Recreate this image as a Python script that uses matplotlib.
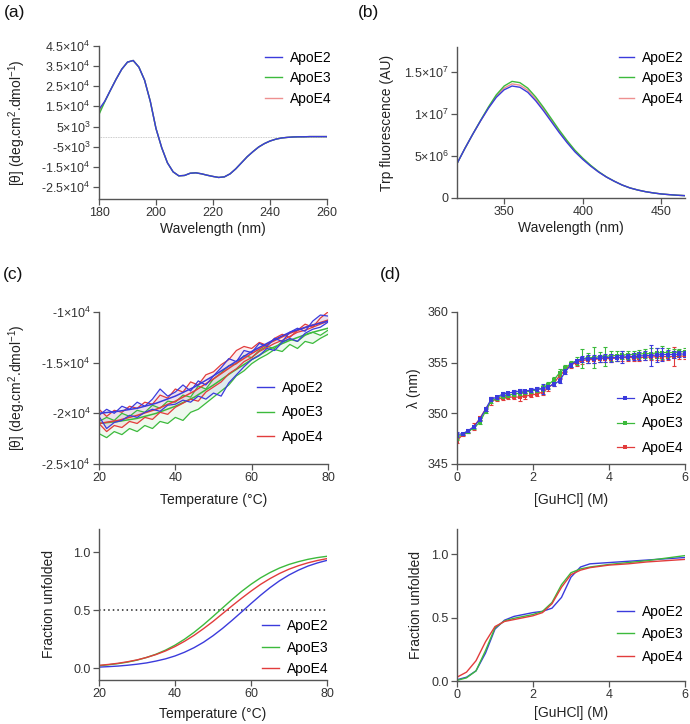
import numpy as np
import matplotlib.pyplot as plt
from matplotlib.lines import Line2D

plt.rcParams['font.family'] = ['Liberation Sans', 'DejaVu Sans']
plt.rcParams['mathtext.fontset'] = 'custom'
plt.rcParams['mathtext.rm'] = 'Liberation Sans'
plt.rcParams['mathtext.it'] = 'Liberation Sans:italic'
plt.rcParams['mathtext.bf'] = 'Liberation Sans:bold'
plt.rcParams['axes.unicode_minus'] = False

# --------------------------------------------------------------------------
# DATA
# --------------------------------------------------------------------------

LABELS = ["ApoE2", "ApoE3", "ApoE4"]

# (a) far-UV CD spectra, units of 1e4 deg.cm2.dmol-1
CD_WL = [180, 182, 184, 186, 188, 190, 192, 194, 196, 198, 200, 202, 204, 206,
         208, 210, 212, 214, 216, 218, 220, 222, 224, 226, 228, 230, 232, 234,
         236, 238, 240, 242, 244, 246, 248, 250, 252, 254, 256, 258, 260]
CD_E2 = [1.35, 1.75, 2.30, 2.85, 3.35, 3.70, 3.78, 3.45, 2.80, 1.75, 0.40, -0.55,
         -1.30, -1.75, -1.95, -1.93, -1.82, -1.80, -1.85, -1.92, -1.98, -2.03,
         -2.00, -1.85, -1.60, -1.30, -1.00, -0.75, -0.52, -0.35, -0.22, -0.13,
         -0.07, -0.04, -0.02, -0.01, -0.01, 0.0, 0.0, 0.0, 0.0]
CD_E3 = [1.10, 1.72] + CD_E2[2:]
CD_E4 = [1.25, 1.74] + CD_E2[2:]
CD_YTICKS = [4.5e4, 3.5e4, 2.5e4, 1.5e4, 5e3, -5e3, -1.5e4, -2.5e4]
CD_YTICKLABELS = ["4.5×10$^{4}$", "3.5×10$^{4}$", "2.5×10$^{4}$", "1.5×10$^{4}$",
                  "5×10$^{3}$", "-5×10$^{3}$", "-1.5×10$^{4}$", "-2.5×10$^{4}$"]

# (b) Trp fluorescence, units of 1e6 AU
FL_WL = [320, 325, 330, 335, 340, 345, 350, 355, 360, 365, 370, 375, 380, 385,
         390, 395, 400, 405, 410, 415, 420, 425, 430, 435, 440, 445, 450, 455,
         460, 465]
FL_E2 = [4.1, 5.9, 7.6, 9.2, 10.7, 12.0, 12.9, 13.35, 13.2, 12.6, 11.6, 10.4,
         9.1, 7.8, 6.6, 5.5, 4.6, 3.8, 3.1, 2.5, 2.0, 1.55, 1.2, 0.95, 0.75,
         0.6, 0.48, 0.4, 0.33, 0.28]
FL_E3 = [4.1, 5.9, 7.6, 9.25, 10.85, 12.3, 13.35, 13.9, 13.75, 13.1, 12.05, 10.8,
         9.45, 8.1, 6.85, 5.7, 4.75, 3.9, 3.15, 2.52, 2.0, 1.55, 1.2, 0.95, 0.75,
         0.6, 0.48, 0.4, 0.33, 0.28]
FL_E4 = [4.1, 5.9, 7.6, 9.2, 10.75, 12.15, 13.1, 13.6, 13.45, 12.85, 11.8, 10.6,
         9.25, 7.95, 6.7, 5.6, 4.65, 3.85, 3.12, 2.5, 2.0, 1.55, 1.2, 0.95, 0.75,
         0.6, 0.48, 0.4, 0.33, 0.28]
FL_YTICKS = [0, 5e6, 1e7, 1.5e7]
FL_YTICKLABELS = ["0", "5×10$^{6}$", "1×10$^{7}$", "1.5×10$^{7}$"]

# (c) thermal melt by CD at 222 nm, units of 1e3; two replicates + fit
T_RAW = [20, 22, 24, 26, 28, 30, 32, 34, 36, 38, 40, 42, 44, 46, 48, 50, 52, 54,
         56, 58, 60, 62, 64, 66, 68, 70, 72, 74, 76, 78, 80]
E2_HI = [-20.2, -19.6, -20.0, -19.3, -19.6, -18.9, -19.3, -18.6, -17.6, -18.3,
         -17.9, -17.2, -17.8, -16.8, -17.2, -16.3, -15.5, -14.6, -14.9, -13.8,
         -14.0, -13.1, -13.4, -12.6, -12.9, -12.0, -11.6, -11.9, -10.9, -10.3, -10.4]
E2_LO = [-20.3, -21.5, -20.9, -20.7, -20.2, -20.4, -19.9, -19.6, -19.8, -19.2,
         -19.1, -18.7, -18.9, -18.3, -18.6, -18.0, -18.3, -17.0, -16.2, -15.4,
         -14.7, -14.3, -13.6, -13.8, -13.0, -12.6, -12.9, -12.1, -11.7, -11.5, -11.0]
E3_HI = [-20.8, -20.4, -20.7, -20.0, -20.3, -19.7, -19.9, -19.2, -19.5, -18.8,
         -18.9, -18.2, -18.4, -17.3, -17.6, -16.6, -16.0, -15.3, -15.1, -14.3,
         -14.5, -13.8, -13.4, -13.6, -12.9, -12.7, -12.9, -12.3, -12.0, -12.3, -11.8]
E3_LO = [-22.0, -22.4, -21.8, -22.1, -21.5, -21.8, -21.2, -21.5, -20.8, -21.0,
         -20.4, -20.7, -19.9, -19.6, -19.0, -18.4, -17.8, -17.2, -16.3, -15.8,
         -15.1, -14.6, -14.2, -13.7, -13.9, -13.2, -13.6, -12.9, -13.1, -12.6, -12.2]
E4_HI = [-19.6, -20.3, -19.7, -19.9, -19.3, -19.5, -18.9, -19.1, -18.2, -18.5,
         -17.6, -17.9, -16.9, -17.2, -16.2, -15.9, -15.2, -14.7, -13.8, -13.4,
         -13.6, -13.0, -13.3, -12.6, -12.2, -12.5, -11.8, -11.2, -11.5, -10.6, -10.0]
E4_LO = [-21.0, -21.8, -21.2, -21.4, -20.8, -21.0, -20.4, -20.6, -19.9, -20.1,
         -19.4, -19.0, -18.6, -18.8, -17.9, -17.4, -16.9, -16.1, -15.6, -14.9,
         -14.5, -13.9, -13.5, -13.1, -12.8, -12.4, -12.0, -11.8, -11.5, -11.2, -10.9]
T_FIT = [20, 25, 30, 35, 40, 45, 50, 55, 60, 65, 70, 75, 80]
E2_FIT = [-20.0, -19.8, -19.5, -19.0, -18.3, -17.4, -16.3, -15.1, -13.9, -12.9,
          -12.0, -11.4, -10.9]
E3_FIT = [-21.0, -20.8, -20.5, -20.0, -19.3, -18.4, -17.2, -15.9, -14.7, -13.6,
          -12.8, -12.1, -11.6]
E4_FIT = [-21.0, -20.7, -20.2, -19.6, -18.8, -17.8, -16.6, -15.3, -14.1, -13.0,
          -12.1, -11.4, -10.8]
MELT_YTICKS = [-1e4, -1.5e4, -2e4, -2.5e4]
MELT_YTICKLABELS = ["-1×10$^{4}$", "-1.5×10$^{4}$", "-2×10$^{4}$", "-2.5×10$^{4}$"]

# (c) fraction unfolded vs temperature
T_FU = [20, 22.5, 25, 27.5, 30, 32.5, 35, 37.5, 40, 42.5, 45, 47.5, 50, 52.5,
        55, 57.5, 60, 62.5, 65, 67.5, 70, 72.5, 75, 77.5, 80]
FU_T_E2 = [0.011, 0.015, 0.020, 0.027, 0.036, 0.047, 0.063, 0.082, 0.107, 0.139,
           0.178, 0.225, 0.281, 0.344, 0.413, 0.485, 0.558, 0.629, 0.695, 0.754,
           0.804, 0.846, 0.881, 0.908, 0.930]
FU_T_E3 = [0.023, 0.031, 0.041, 0.054, 0.071, 0.094, 0.122, 0.157, 0.200, 0.251,
           0.310, 0.376, 0.447, 0.520, 0.593, 0.662, 0.724, 0.779, 0.825, 0.864,
           0.895, 0.919, 0.939, 0.954, 0.965]
FU_T_E4 = [0.026, 0.034, 0.044, 0.057, 0.073, 0.094, 0.119, 0.150, 0.188, 0.233,
           0.284, 0.342, 0.404, 0.471, 0.538, 0.603, 0.665, 0.723, 0.773, 0.817,
           0.854, 0.884, 0.909, 0.929, 0.945]

# (d) GuHCl titration, emission maximum (nm) +/- SD
GU = [0.0, 0.15, 0.3, 0.45, 0.6, 0.75, 0.9, 1.05, 1.2, 1.35, 1.5, 1.65, 1.8,
      1.95, 2.1, 2.25, 2.4, 2.55, 2.7, 2.85, 3.0, 3.15, 3.3, 3.45, 3.6, 3.75,
      3.9, 4.05, 4.2, 4.35, 4.5, 4.65, 4.8, 4.95, 5.1, 5.25, 5.4, 5.55, 5.7,
      5.85, 6.0]
LAM_E2 = [347.9, 348.0, 348.3, 348.7, 349.4, 350.4, 351.4, 351.6, 351.9, 352.0,
          352.1, 352.2, 352.2, 352.3, 352.4, 352.4, 352.6, 352.9, 353.2, 354.1,
          354.8, 355.2, 355.35, 355.4, 355.4, 355.45, 355.5, 355.5, 355.5, 355.55,
          355.6, 355.6, 355.65, 355.7, 355.7, 355.75, 355.8, 355.8, 355.8, 355.85,
          355.85]
LAM_E3 = [347.6, 348.0, 348.2, 348.6, 349.1, 350.2, 351.2, 351.5, 351.7, 351.8,
          351.9, 352.0, 352.1, 352.2, 352.3, 352.5, 352.8, 353.3, 354.0, 354.5,
          354.9, 355.2, 355.4, 355.5, 355.5, 355.6, 355.6, 355.7, 355.7, 355.75,
          355.8, 355.8, 355.85, 355.9, 355.9, 355.95, 356.0, 356.0, 356.0, 356.05,
          356.1]
LAM_E4 = [347.3, 347.9, 348.2, 348.7, 349.5, 350.4, 351.2, 351.4, 351.5, 351.6,
          351.6, 351.6, 351.7, 351.8, 351.9, 352.1, 352.5, 353.0, 353.7, 354.3,
          354.8, 355.0, 355.2, 355.3, 355.3, 355.4, 355.4, 355.4, 355.45, 355.5,
          355.5, 355.5, 355.5, 355.55, 355.55, 355.6, 355.6, 355.6, 355.6, 355.65,
          355.65]
ERR_E2 = [0.25, 0.1, 0.15, 0.1, 0.15, 0.15, 0.2, 0.15, 0.2, 0.15, 0.2, 0.2, 0.15,
          0.2, 0.2, 0.45, 0.2, 0.2, 0.25, 0.25, 0.2, 0.2, 0.3, 0.4, 0.4, 0.35, 0.4,
          0.4, 0.3, 0.6, 0.3, 0.35, 0.4, 0.45, 1.0, 0.7, 0.6, 0.45, 0.35, 0.3, 0.3]
ERR_E3 = [0.2, 0.1, 0.15, 0.15, 0.2, 0.2, 0.2, 0.15, 0.2, 0.15, 0.2, 0.2, 0.2,
          0.2, 0.2, 0.25, 0.3, 0.3, 0.35, 0.3, 0.3, 0.4, 0.9, 0.5, 1.0, 0.5, 0.9,
          0.5, 0.5, 0.4, 0.4, 0.35, 0.4, 0.4, 0.5, 0.5, 0.6, 0.4, 0.3, 0.3, 0.3]
ERR_E4 = [0.2, 0.1, 0.15, 0.3, 0.2, 0.2, 0.4, 0.2, 0.2, 0.15, 0.2, 0.4, 0.3,
          0.2, 0.2, 0.25, 0.25, 0.3, 0.3, 0.25, 0.3, 0.3, 0.3, 0.3, 0.3, 0.3, 0.3,
          0.3, 0.3, 0.3, 0.3, 0.3, 0.3, 0.3, 0.3, 0.3, 0.3, 0.3, 0.9, 0.3, 0.3]

# (d) fraction unfolded vs GuHCl
GU_FU = [0, 0.25, 0.5, 0.75, 1.0, 1.25, 1.5, 1.75, 2.0, 2.25, 2.5, 2.75, 3.0,
         3.25, 3.5, 3.75, 4.0, 4.5, 5.0, 5.5, 6.0]
FU_G_E2 = [0.01, 0.03, 0.08, 0.22, 0.41, 0.48, 0.51, 0.525, 0.54, 0.55, 0.575,
           0.66, 0.82, 0.90, 0.925, 0.93, 0.935, 0.945, 0.955, 0.965, 0.975]
FU_G_E3 = [0.005, 0.025, 0.08, 0.24, 0.42, 0.475, 0.495, 0.51, 0.525, 0.55, 0.62,
           0.76, 0.855, 0.885, 0.90, 0.91, 0.92, 0.935, 0.95, 0.97, 0.99]
FU_G_E4 = [0.03, 0.07, 0.16, 0.31, 0.43, 0.47, 0.485, 0.50, 0.515, 0.54, 0.61,
           0.74, 0.84, 0.875, 0.895, 0.905, 0.915, 0.925, 0.94, 0.95, 0.96]

# --------------------------------------------------------------------------
# STYLE / LAYOUT
# --------------------------------------------------------------------------

BLUE, GREEN, RED, PINK = "#3b3bdc", "#3cba3c", "#e23c3c", "#ee9090"
W, H = 690, 724

fig = plt.figure(figsize=(W / 100, H / 100), dpi=100)


def add_axes(x0, y0, x1, y1):
    # pixel box (top-left origin) -> figure fraction
    ax = fig.add_axes([x0 / W, 1 - y1 / H, (x1 - x0) / W, (y1 - y0) / H])
    for s in ("top", "right"):
        ax.spines[s].set_visible(False)
    for s in ("left", "bottom"):
        ax.spines[s].set_color("#555555")
        ax.spines[s].set_linewidth(1.0)
    ax.tick_params(direction="out", length=4, width=0.9, color="#555555",
                   labelcolor="#333333", labelsize=9, pad=2)
    return ax


def legend(ax, handles, x, y, spacing=0.45, hl=1.2):
    ax.legend(handles, LABELS, loc="upper left", bbox_to_anchor=(x / W, 1 - y / H),
              bbox_transform=fig.transFigure, frameon=False, fontsize=10,
              handlelength=hl, handletextpad=0.6, labelspacing=spacing,
              borderpad=0, borderaxespad=0, numpoints=1)


def ylab(ax, text, xpx, x0):
    # xpx = wanted centre of the rotated label, in figure pixels
    ax.set_ylabel(text, fontsize=10, color="#222222")
    ax.yaxis.set_label_coords((xpx + 6 - x0) / 228, 0.5)


def xlab(ax, text, pad):
    ax.set_xlabel(text, fontsize=10, color="#222222", labelpad=pad)


# (a) ----------------------------------------------------------------------
ax = add_axes(99, 46, 327, 199)
ax.axhline(0, color="#bbbbbb", lw=0.6, ls=(0, (1, 1)))
la4, = ax.plot(CD_WL, np.array(CD_E4) * 1e4, color=PINK, lw=1)
la3, = ax.plot(CD_WL, np.array(CD_E3) * 1e4, color=GREEN, lw=1)
la2, = ax.plot(CD_WL, np.array(CD_E2) * 1e4, color=BLUE, lw=1)
ax.set_xlim(180, 260)
ax.set_ylim(-3.1e4, 4.5e4)
ax.set_xticks([180, 200, 220, 240, 260])
ax.set_yticks(CD_YTICKS)
ax.set_yticklabels(CD_YTICKLABELS)
xlab(ax, "Wavelength (nm)", 2)
ylab(ax, "[θ] (deg.cm$^{2}$.dmol$^{-1}$)", 22, 99)
legend(ax, [la2, la3, la4], 265, 51)

# (b) ----------------------------------------------------------------------
ax = add_axes(457, 47, 685, 198)
lb4, = ax.plot(FL_WL, np.array(FL_E4) * 1e6, color=PINK, lw=1)
lb3, = ax.plot(FL_WL, np.array(FL_E3) * 1e6, color=GREEN, lw=1)
lb2, = ax.plot(FL_WL, np.array(FL_E2) * 1e6, color=BLUE, lw=1)
ax.set_xlim(320, 465)
ax.set_ylim(0, 1.8e7)
ax.set_xticks([350, 400, 450])
ax.set_yticks(FL_YTICKS)
ax.set_yticklabels(FL_YTICKLABELS)
xlab(ax, "Wavelength (nm)", 2)
ylab(ax, "Trp fluorescence (AU)", 388, 457)
legend(ax, [lb2, lb3, lb4], 619, 51, hl=1.05)

# (c) top ------------------------------------------------------------------
ax = add_axes(99, 312, 328, 464)
for hi, lo, fit, c in [(E3_HI, E3_LO, E3_FIT, GREEN), (E4_HI, E4_LO, E4_FIT, RED),
                       (E2_HI, E2_LO, E2_FIT, BLUE)]:
    hi = np.array(hi) * 1e3
    lo = np.array(lo) * 1e3
    ax.fill_between(T_RAW, lo, hi, color=c, alpha=0.08, lw=0)
    ax.plot(T_RAW, hi, color=c, lw=0.9)
    ax.plot(T_RAW, lo, color=c, lw=0.9)
    ax.plot(T_FIT, np.array(fit) * 1e3, color=c, lw=1.1)
ax.set_xlim(20, 80)
ax.set_ylim(-2.5e4, -1e4)
ax.set_xticks([20, 40, 60, 80])
ax.set_yticks(MELT_YTICKS)
ax.set_yticklabels(MELT_YTICKLABELS)
xlab(ax, "Temperature (°C)", 6)
ylab(ax, "[θ] (deg.cm$^{2}$.dmol$^{-1}$)", 22, 99)
legend(ax, [Line2D([], [], color=c, lw=1) for c in (BLUE, GREEN, RED)], 257, 381,
       spacing=0.75)

# (c) bottom ---------------------------------------------------------------
ax = add_axes(99, 529, 327, 680)
ax.plot([20, 80], [0.5, 0.5], color="#222222", lw=1.1, ls=(0, (1, 2)))
lc2, = ax.plot(T_FU, FU_T_E2, color=BLUE, lw=1)
lc3, = ax.plot(T_FU, FU_T_E3, color=GREEN, lw=1)
lc4, = ax.plot(T_FU, FU_T_E4, color=RED, lw=1)
ax.set_xlim(20, 80)
ax.set_ylim(-0.1, 1.2)
ax.set_xticks([20, 40, 60, 80])
ax.set_yticks([0, 0.5, 1.0])
ax.set_yticklabels(["0.0", "0.5", "1.0"])
xlab(ax, "Temperature (°C)", 5)
ylab(ax, "Fraction unfolded", 50, 99)
legend(ax, [lc2, lc3, lc4], 262, 619, spacing=0.55)

# (d) top ------------------------------------------------------------------
ax = add_axes(457, 312, 685, 464)
dh = {}
for lam, err, c, key in [(LAM_E4, ERR_E4, RED, 4), (LAM_E3, ERR_E3, GREEN, 3),
                         (LAM_E2, ERR_E2, BLUE, 2)]:
    ax.errorbar(GU, lam, yerr=err, fmt="none", ecolor=c, elinewidth=0.8,
                capsize=1.5, capthick=0.8)
    dh[key], = ax.plot(GU, lam, color=c, lw=0.9, marker="s", ms=2.8, mew=0)
ax.set_xlim(0, 6)
ax.set_ylim(345, 360)
ax.set_xticks([0, 2, 4, 6])
ax.set_yticks([345, 350, 355, 360])
xlab(ax, "[GuHCl] (M)", 6)
ylab(ax, "λ (nm)", 415, 457)
legend(ax, [dh[2], dh[3], dh[4]], 617, 392, spacing=0.75)

# (d) bottom ---------------------------------------------------------------
ax = add_axes(457, 529, 685, 681)
ld2, = ax.plot(GU_FU, FU_G_E2, color=BLUE, lw=1)
ld3, = ax.plot(GU_FU, FU_G_E3, color=GREEN, lw=1)
ld4, = ax.plot(GU_FU, FU_G_E4, color=RED, lw=1)
ax.set_xlim(0, 6)
ax.set_ylim(0, 1.2)
ax.set_xticks([0, 2, 4, 6])
ax.set_yticks([0, 0.5, 1.0])
ax.set_yticklabels(["0.0", "0.5", "1.0"])
xlab(ax, "[GuHCl] (M)", 3)
ylab(ax, "Fraction unfolded", 417, 457)
legend(ax, [ld2, ld3, ld4], 617, 605, spacing=0.6)

# panel letters
for txt, x, y in [("(a)", 4, 13), ("(b)", 358, 13), ("(c)", 3, 275), ("(d)", 380, 275)]:
    fig.text(x / W, 1 - y / H, txt, fontsize=12.5, color="#111111", va="center")

fig.savefig("out.png", dpi=100)
